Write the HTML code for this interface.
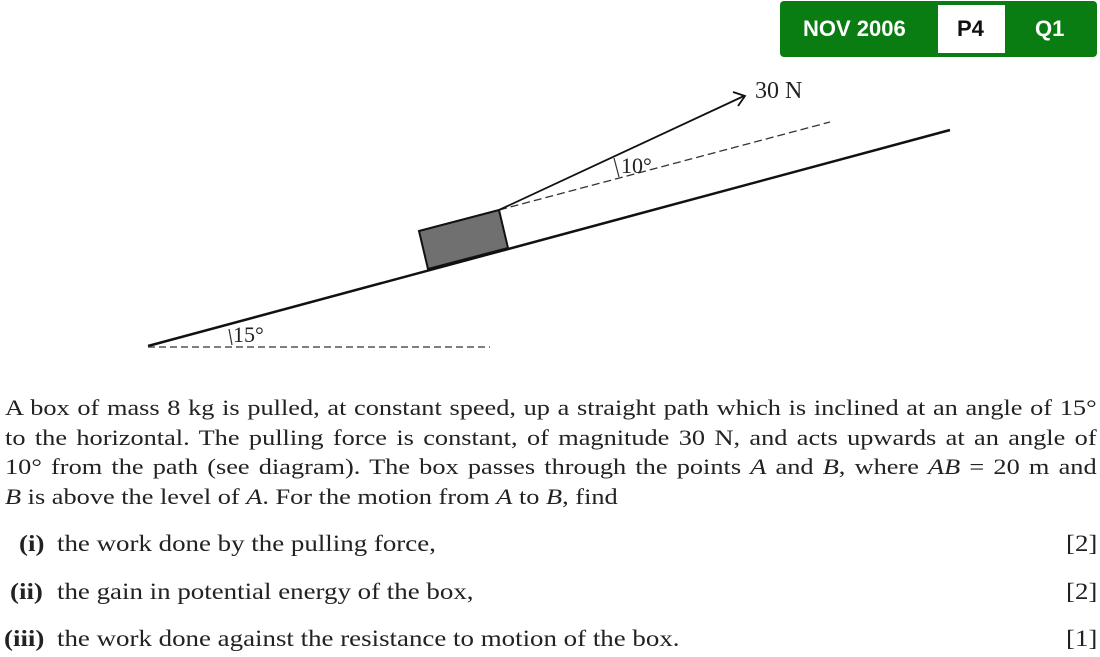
<!DOCTYPE html>
<html><head><meta charset="utf-8"><style>
html,body{margin:0;padding:0;background:#fff;}
body{width:1100px;height:657px;position:relative;overflow:hidden;font-family:"Liberation Serif",serif;color:#222;}
.badge{position:absolute;left:780px;top:1px;width:317px;height:56px;background:#0a7d12;border-radius:4px;font-family:"Liberation Sans",sans-serif;font-weight:bold;font-size:22px;color:#fff;}
.badge span{position:absolute;top:15px;}
.white{position:absolute;left:158px;top:4px;width:67px;height:48px;background:#fff;}
.ln{position:absolute;left:5px;width:933px;height:30px;overflow:visible;font-size:22.5px;line-height:30px;white-space:nowrap;transform:scaleX(1.17);transform-origin:0 0;}
.j{text-align:justify;text-align-last:justify;white-space:normal;}
.it{position:absolute;font-size:23px;white-space:nowrap;transform:scaleX(1.17);transform-origin:0 0;}
b{font-weight:bold;}
</style></head><body>
<svg width="1100" height="657" style="position:absolute;left:0;top:0">
<line x1="148" y1="346" x2="950" y2="130" stroke="#111" stroke-width="2.5"/>
<line x1="148" y1="347" x2="490" y2="347" stroke="#333" stroke-width="1.3" stroke-dasharray="7,4"/>
<line x1="229" y1="329" x2="232" y2="345" stroke="#333" stroke-width="1.2"/>
<text x="233" y="342" font-family="Liberation Serif" font-size="22" fill="#222">15°</text>
<polygon points="419,231 499,210 508,248 428,269" fill="#707070" stroke="#111" stroke-width="2"/>
<line x1="499" y1="210" x2="830" y2="122" stroke="#333" stroke-width="1.3" stroke-dasharray="8,4"/>
<line x1="499" y1="210" x2="744" y2="96" stroke="#111" stroke-width="1.8"/>
<polyline points="733,92 745,96 738,106" fill="none" stroke="#111" stroke-width="1.8"/>
<line x1="614" y1="158" x2="619" y2="177" stroke="#333" stroke-width="1.2"/>
<text x="621" y="173" font-family="Liberation Serif" font-size="22" fill="#222">10°</text>
<text x="755" y="98" font-family="Liberation Serif" font-size="24" fill="#222">30 N</text>
</svg>
<div class="badge"><span style="left:23px">NOV 2006</span><div class="white"></div><span style="left:177px;color:#111">P4</span><span style="left:255px">Q1</span></div>
<div class="ln j" style="top:393px">A box of mass 8 kg is pulled, at constant speed, up a straight path which is inclined at an angle of 15°</div>
<div class="ln j" style="top:423px">to the horizontal. The pulling force is constant, of magnitude 30 N, and acts upwards at an angle of</div>
<div class="ln j" style="top:452px">10° from the path (see diagram). The box passes through the points <i>A</i> and <i>B</i>, where <i>AB</i> = 20 m and</div>
<div class="ln" style="top:482px"><i>B</i> is above the level of <i>A</i>. For the motion from <i>A</i> to <i>B</i>, find</div>
<div class="it" style="left:19px;top:531px"><b>(i)</b></div><div class="it" style="left:57px;top:531px">the work done by the pulling force,</div><div class="it" style="left:1066px;top:531px">[2]</div>
<div class="it" style="left:10px;top:579px"><b>(ii)</b></div><div class="it" style="left:57px;top:579px">the gain in potential energy of the box,</div><div class="it" style="left:1066px;top:579px">[2]</div>
<div class="it" style="left:4px;top:626px"><b>(iii)</b></div><div class="it" style="left:57px;top:626px">the work done against the resistance to motion of the box.</div><div class="it" style="left:1066px;top:626px">[1]</div>
</body></html>
